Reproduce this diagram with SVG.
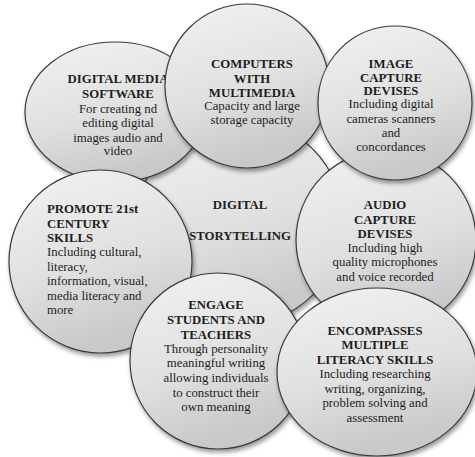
<svg xmlns="http://www.w3.org/2000/svg" width="475" height="457" viewBox="0 0 475 457">
<defs>
<linearGradient id="g" x1="0" y1="0" x2="0.3" y2="1">
<stop offset="0" stop-color="#f2f2f2"/>
<stop offset="0.6" stop-color="#e0e0e0"/>
<stop offset="1" stop-color="#c9c9c9"/>
</linearGradient>
<filter id="sh" x="-20%" y="-20%" width="140%" height="140%">
<feDropShadow dx="1.5" dy="3" stdDeviation="2.2" flood-color="#000" flood-opacity="0.4"/>
</filter>
</defs>
<style>
.n{fill:url(#g);stroke:#3a3a3a;stroke-width:1.2;filter:url(#sh)}
text{font-family:"Liberation Serif","Times New Roman",serif;font-size:12.8px;fill:#1e1e1e}
.b{font-weight:bold}
.c{text-anchor:middle}
</style>
<rect width="475" height="457" fill="#ffffff"/>
<g id="connectors"/>
<g id="center">
<circle class="n" cx="240" cy="222" r="103"/>
<text class="b c" x="240" y="209">DIGITAL</text>
<text class="b c" x="240" y="240">STORYTELLING</text>
</g>
<g id="digital-media">
<ellipse class="n" cx="115" cy="112" rx="90" ry="70"/>
<text class="c" x="118"><tspan class="b" x="118" y="83">DIGITAL MEDIA</tspan><tspan class="b" x="118" y="98">SOFTWARE</tspan><tspan x="118" y="113">For creating nd</tspan><tspan x="118" y="127">editing digital</tspan><tspan x="118" y="142">images audio and</tspan><tspan x="118" y="155">video</tspan></text>
</g>
<g id="computers">
<circle class="n" cx="247" cy="86" r="82"/>
<text class="c"><tspan class="b" x="252" y="68">COMPUTERS</tspan><tspan class="b" x="252" y="83">WITH</tspan><tspan class="b" x="252" y="97">MULTIMEDIA</tspan><tspan x="252" y="110">Capacity and large</tspan><tspan x="252" y="124">storage capacity</tspan></text>
</g>
<g id="audio">
<circle class="n" cx="386" cy="240" r="90"/>
<text class="c"><tspan class="b" x="385" y="209">AUDIO</tspan><tspan class="b" x="385" y="224">CAPTURE</tspan><tspan class="b" x="385" y="238">DEVISES</tspan><tspan x="385" y="252">Including high</tspan><tspan x="385" y="266">quality microphones</tspan><tspan x="385" y="281">and voice recorded</tspan></text>
</g>
<g id="image">
<circle class="n" cx="395" cy="103" r="77"/>
<text class="c"><tspan class="b" x="391" y="68">IMAGE</tspan><tspan class="b" x="391" y="82">CAPTURE</tspan><tspan class="b" x="391" y="95">DEVISES</tspan><tspan x="391" y="108">Including digital</tspan><tspan x="391" y="123">cameras scanners</tspan><tspan x="391" y="137">and</tspan><tspan x="391" y="151">concordances</tspan></text>
</g>
<g id="promote">
<circle class="n" cx="100.5" cy="261.5" r="91.5"/>
<text><tspan class="b" x="47" y="213">PROMOTE 21st</tspan><tspan class="b" x="47" y="228">CENTURY</tspan><tspan class="b" x="47" y="242">SKILLS</tspan><tspan x="47" y="256">Including cultural,</tspan><tspan x="47" y="271">literacy,</tspan><tspan x="47" y="285">information, visual,</tspan><tspan x="47" y="300">media literacy and</tspan><tspan x="47" y="314">more</tspan></text>
</g>
<g id="engage">
<circle class="n" cx="218" cy="361" r="88"/>
<text class="c"><tspan class="b" x="216" y="309">ENGAGE</tspan><tspan class="b" x="216" y="324">STUDENTS AND</tspan><tspan class="b" x="216" y="339">TEACHERS</tspan><tspan x="216" y="353">Through personality</tspan><tspan x="216" y="367">meaningful writing</tspan><tspan x="216" y="382">allowing individuals</tspan><tspan x="216" y="397">to construct their</tspan><tspan x="216" y="411">own meaning</tspan></text>
</g>
<g id="encompasses">
<ellipse class="n" cx="377" cy="372" rx="100" ry="84"/>
<text class="c"><tspan class="b" x="375" y="335">ENCOMPASSES</tspan><tspan class="b" x="375" y="349">MULTIPLE</tspan><tspan class="b" x="375" y="364">LITERACY SKILLS</tspan><tspan x="375" y="378">Including researching</tspan><tspan x="375" y="393">writing, organizing,</tspan><tspan x="375" y="407">problem solving and</tspan><tspan x="375" y="422">assessment</tspan></text>
</g>
</svg>
